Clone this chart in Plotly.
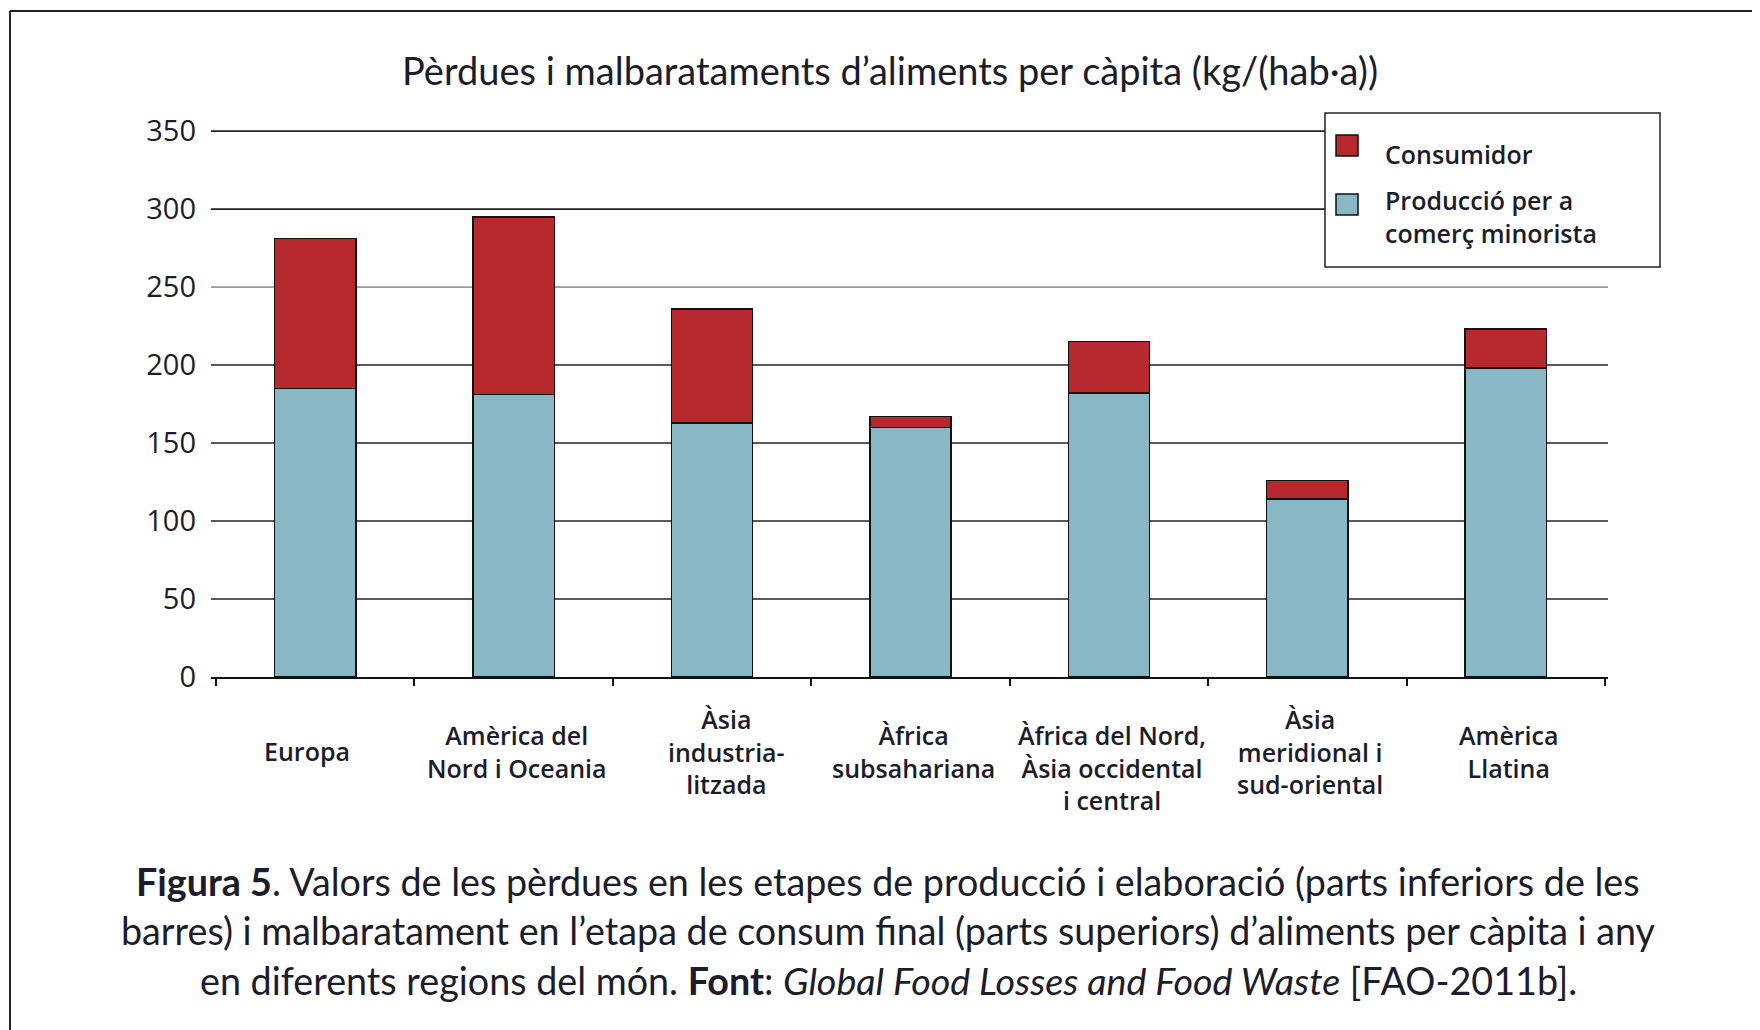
import plotly.graph_objects as go

# dades (kg per habitant i any), llegides del gràfic
regions = ["Europa", "Amèrica del<br>Nord i Oceania", "Àsia<br>industria-<br>litzada",
           "Àfrica<br>subsahariana", "Àfrica del Nord,<br>Àsia occidental<br>i central",
           "Àsia<br>meridional i<br>sud-oriental", "Amèrica<br>Llatina"]
produccio = [185, 181, 163, 160, 182, 114, 198]
consumidor = [96, 114, 73, 7, 33, 12, 25]
graella = [50, 100, 150, 200, 250, 300, 350]

noms = ["Producció per a comerç minorista", "Consumidor"]
colors = ["#8AB7C5", "#B8282F"]

titol = "Pèrdues i malbarataments d’aliments per càpita (kg/(hab·a))"
peu = ["<b>Figura 5</b>. Valors de les pèrdues en les etapes de producció i elaboració (parts inferiors de les",
       "barres) i malbaratament en l’etapa de consum final (parts superiors) d’aliments per càpita i any",
       "en diferents regions del món. <b>Font</b>: <i>Global Food Losses and Food Waste</i> [FAO-2011b]."]

# el navegador deixa 8 px de marge a la pàgina
OFF = 8
W, H = 1760 - OFF, 1030 - OFF
L, T = 211 - OFF, 128 - OFF
plot_bottom = 677 - OFF
R, B = W - (1608 - OFF), H - plot_bottom
pw, ph = W - L - R, H - T - B


def px(x):
    # x en píxels de pantalla -> coordenada paper
    return (x - OFF - L) / pw


def py(y):
    return (plot_bottom - (y - OFF)) / ph


TXT = "#1c1c2a"
fig = go.Figure()
for vals, nom, col in zip([produccio, consumidor], noms, colors):
    fig.add_trace(go.Bar(x=regions, y=vals, name=nom, showlegend=False,
                         marker=dict(color=col, line=dict(color="#111", width=1.5))))

fig.update_layout(
    width=W, height=H, barmode="stack", bargap=0.59,
    margin=dict(l=L, r=R, t=T, b=B),
    paper_bgcolor="white", plot_bgcolor="white",
    xaxis=dict(type="category", range=[-0.525, 6.515],
               showticklabels=False, ticks="outside", tickson="boundaries", ticklen=7,
               tickwidth=1.5, tickcolor="#111", showline=True, linecolor="#111", linewidth=2,
               showgrid=False, zeroline=False),
    yaxis=dict(range=[0, 352], tickvals=[0] + graella, showgrid=False,
               zeroline=False, showline=False, ticks="", ticklabelstandoff=14,
               tickfont=dict(family="Open Sans", size=29, color=TXT)),
)

# línies de la graella (la de 250 és grisa a l'original)
for g in graella:
    fig.add_shape(type="line", xref="paper", yref="y", x0=0, x1=1, y0=g, y1=g, layer="below",
                  line=dict(color="#9a9a9a" if g == 250 else "#222", width=1.6))

# etiquetes de categoria (alguns petits desplaçaments com a l'original)
desplx = {0: -8, 2: 14}
for i, r in enumerate(regions):
    fig.add_annotation(x=r, xref="x", y=py(751), yref="paper", text=r, showarrow=False,
                       xanchor="center", yanchor="middle", align="center",
                       xshift=desplx.get(i, 3), yshift=-16 if i == 4 else 0,
                       font=dict(family="Open Sans", size=25, color=TXT, weight=600))

# títol
fig.add_annotation(x=px(890), y=py(70), xref="paper", yref="paper", text=titol, showarrow=False,
                   xanchor="center", yanchor="middle", font=dict(family="Lato", size=38, color=TXT))

# peu de figura
for k, linia in enumerate(peu):
    fig.add_annotation(x=px(888), y=py(881 + k * 49.5), xref="paper", yref="paper", text=linia,
                       showarrow=False, xanchor="center", yanchor="middle",
                       font=dict(family="Lato", size=37.7, color=TXT))

# llegenda dibuixada a mà
fig.add_shape(type="rect", xref="paper", yref="paper", x0=px(1325), x1=px(1660), y0=py(267), y1=py(113),
              line=dict(color="#222", width=1.5), fillcolor="white", layer="above")
for (y0, y1), col in zip([(135, 156), (194, 215)], [colors[1], colors[0]]):
    fig.add_shape(type="rect", xref="paper", yref="paper", x0=px(1336), x1=px(1358), y0=py(y1), y1=py(y0),
                  line=dict(color="#111", width=1.5), fillcolor=col, layer="above")
fig.add_annotation(x=px(1383), y=py(154), xref="paper", yref="paper", text=noms[1], showarrow=False,
                   xanchor="left", yanchor="middle",
                   font=dict(family="Open Sans", size=25, color=TXT, weight=600))
fig.add_annotation(x=px(1383), y=py(216), xref="paper", yref="paper", text="Producció per a<br>comerç minorista",
                   showarrow=False, xanchor="left", yanchor="middle", align="left",
                   font=dict(family="Open Sans", size=25, color=TXT, weight=600))

# marc de la pàgina
fig.add_shape(type="line", xref="paper", yref="paper", x0=px(10), x1=px(1760), y0=py(11), y1=py(11),
              line=dict(color="#222", width=2))
fig.add_shape(type="line", xref="paper", yref="paper", x0=px(10), x1=px(10), y0=py(11), y1=py(1030),
              line=dict(color="#222", width=2))

fig.write_html("out.html")
